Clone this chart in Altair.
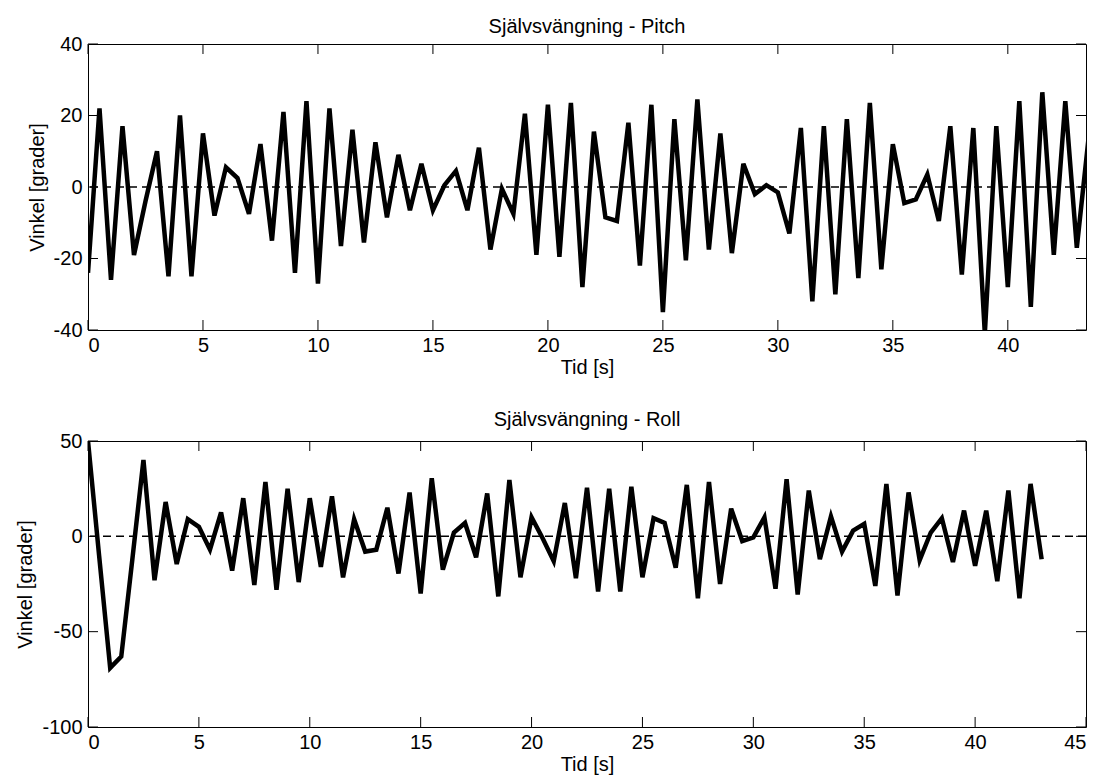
import altair as alt
import pandas as pd

pitch_values = [
    -24, 22, -26, 17, -19, -4, 10, -25, 20, -25,
    15, -8, 5.5, 2.5, -7.5, 12, -15, 21, -24, 24,
    -27, 22, -16.5, 16, -15.5, 12.5, -8.5, 9, -6.5, 6.5,
    -6.5, 0.5, 4.5, -6.5, 11, -17.5, -0.5, -7.5, 20.5, -19,
    23, -19.5, 23.5, -28, 15.5, -8.5, -9.5, 18, -22, 23,
    -35, 19, -20.5, 24.5, -17.5, 15, -18.5, 6.5, -2, 0.5,
    -1.5, -13, 16.5, -32, 17, -30, 19, -25.5, 23.5, -23,
    12, -4.5, -3.5, 3.5, -9.5, 17, -24.5, 16.5, -41, 17,
    -28, 24, -33.5, 26.5, -19, 24, -17, 13,
]
roll_values = [
    50, -10, -69, -63, -12, 40, -23, 18, -14.5, 9,
    5, -7, 12.5, -18, 20, -25.5, 28.5, -28, 25, -24,
    20, -16, 21, -21.5, 9, -8, -7, 15, -19.5, 23,
    -30, 30.5, -17.5, 2, 7, -11, 22.5, -31.5, 29.5, -21.5,
    10, -1, -13, 17.5, -22, 25.5, -29, 25, -29, 26,
    -21.5, 9.5, 7, -16.5, 27, -32.5, 28.5, -25, 14.5, -2.5,
    -0.5, 10, -27.5, 30, -30.5, 24, -12, 10.5, -8, 3,
    6.5, -26, 27.5, -31, 23, -12.5, 2, 9.5, -13.5, 13.5,
    -15.5, 13.5, -23.5, 24, -32.5, 27.5, -12,
]
SAMPLE_STEP = 0.5
pitch_time = [i * SAMPLE_STEP for i in range(len(pitch_values))]
roll_time = [i * SAMPLE_STEP for i in range(len(roll_values))]

pitch_x_domain = [0, 43.4]
pitch_y_domain = [-40, 40]
roll_x_domain = [0, 45]
roll_y_domain = [-100, 50]
pitch_x_ticks = [0, 5, 10, 15, 20, 25, 30, 35, 40]
pitch_y_ticks = [-40, -20, 0, 20, 40]
roll_x_ticks = [0, 5, 10, 15, 20, 25, 30, 35, 40, 45]
roll_y_ticks = [-100, -50, 0, 50]

pitch_title = "Självsvängning - Pitch"
roll_title = "Självsvängning - Roll"
x_title = "Tid [s]"
y_title = "Vinkel [grader]"

FONT = "Liberation Sans"
FS = 20
W, H = 998, 286
TICK = 10


def panel(times, values, xdom, ydom, xt, yt, title, title_offset):
    df = pd.DataFrame({"t": times, "v": values})
    xs = alt.Scale(domain=xdom, nice=False, zero=False)
    ys = alt.Scale(domain=ydom, nice=False, zero=False)
    xaxis = alt.Axis(values=xt, title=x_title, grid=False, ticks=False, tickSize=0,
                     domain=False, labelPadding=5, titlePadding=2,
                     labelExpr="'' + datum.value")
    yaxis = alt.Axis(values=yt, title=y_title, grid=False, ticks=False, tickSize=0,
                     domain=False, labelPadding=6, titlePadding=6,
                     labelExpr="'' + datum.value")
    X = lambda: alt.X("t:Q", scale=xs, axis=xaxis)
    Y = lambda: alt.Y("v:Q", scale=ys, axis=yaxis)

    line = alt.Chart(df).mark_line(color="black", strokeWidth=4.5, clip=True).encode(
        x=X(), y=Y())
    zero = alt.Chart(pd.DataFrame({"v": [0]})).mark_rule(
        color="black", strokeWidth=1.5, strokeDash=[8, 5]
    ).encode(y=Y())

    xt_df = pd.DataFrame({"t": xt})
    yt_df = pd.DataFrame({"v": yt})
    bottom_ticks = alt.Chart(xt_df).mark_rule(color="black", strokeWidth=1).encode(
        x=X(), y=alt.value(H), y2=alt.value(H - TICK))
    top_ticks = alt.Chart(xt_df).mark_rule(color="black", strokeWidth=1).encode(
        x=X(), y=alt.value(0), y2=alt.value(TICK))
    left_ticks = alt.Chart(yt_df).mark_rule(color="black", strokeWidth=1).encode(
        y=Y(), x=alt.value(0), x2=alt.value(TICK))
    right_ticks = alt.Chart(yt_df).mark_rule(color="black", strokeWidth=1).encode(
        y=Y(), x=alt.value(W), x2=alt.value(W - TICK))

    return alt.layer(line, zero, bottom_ticks, top_ticks, left_ticks, right_ticks).properties(
        width=W, height=H,
        title=alt.TitleParams(title, fontSize=FS, fontWeight="normal", font=FONT,
                              color="black", offset=title_offset),
    )


top = panel(pitch_time, pitch_values, pitch_x_domain, pitch_y_domain,
            pitch_x_ticks, pitch_y_ticks, pitch_title, -3)
bottom = panel(roll_time, roll_values, roll_x_domain, roll_y_domain,
               roll_x_ticks, roll_y_ticks, roll_title, 1)

chart = alt.vconcat(top, bottom, spacing=31).properties(
    padding={"left": 15, "top": 16, "right": 5, "bottom": 5},
    background="white",
).configure_view(stroke="black", strokeWidth=1).configure_axis(
    labelFont=FONT, labelFontSize=FS, labelColor="black",
    titleFont=FONT, titleFontSize=FS, titleFontWeight="normal", titleColor="black",
)

chart.save("out.html", embed_options={"renderer": "svg", "actions": False})
